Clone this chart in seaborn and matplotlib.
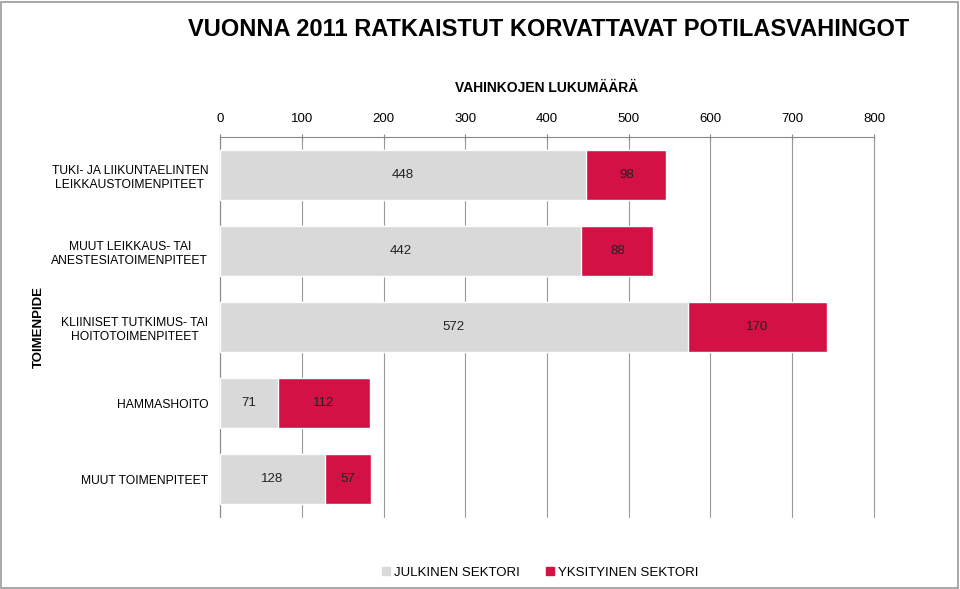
import numpy as np
import seaborn as sns
import pandas as pd
import matplotlib.pyplot as plt
from matplotlib.patches import Patch, Rectangle

categories = ['TUKI- JA LIIKUNTAELINTEN\nLEIKKAUSTOIMENPITEET',
              'MUUT LEIKKAUS- TAI\nANESTESIATOIMENPITEET',
              'KLIINISET TUTKIMUS- TAI\nHOITOTOIMENPITEET',
              'HAMMASHOITO',
              'MUUT TOIMENPITEET']
julkinen = [448, 442, 572, 71, 128]
yksityinen = [98, 88, 170, 112, 57]
xticks = [0, 100, 200, 300, 400, 500, 600, 700, 800]

gray = '#D9D9D9'
red = '#D41145'

sns.set_style('white')
plt.rcParams['font.family'] = ['Liberation Sans', 'DejaVu Sans']
plt.rcParams['text.color'] = 'black'
plt.rcParams['xtick.color'] = 'black'
plt.rcParams['ytick.color'] = 'black'

df = pd.DataFrame({'cat': categories, 'julkinen': julkinen, 'yksityinen': yksityinen})
df['total'] = df['julkinen'] + df['yksityinen']

fig = plt.figure(figsize=(9.6, 5.89), dpi=100)
ax = fig.add_axes([0.2292, 0.1222, 0.6812, 0.6452])

sns.barplot(data=df, x='total', y='cat', orient='h', color=red, width=0.67,
            saturation=1, ax=ax, zorder=3)
sns.barplot(data=df, x='julkinen', y='cat', orient='h', color=gray, width=0.67,
            saturation=1, ax=ax, zorder=3)

for i, row in df.iterrows():
    ax.text(row['julkinen'] / 2, i, str(row['julkinen']), ha='center', va='center',
            fontsize=9.5, color='#222222', zorder=5)
    ax.text(row['julkinen'] + row['yksityinen'] / 2, i, str(row['yksityinen']),
            ha='center', va='center', fontsize=9.5, color='#222222', zorder=5)

ax.set_xlim(0, 800)
ax.set_ylim(4.5, -0.5)
ax.set_xticks(xticks)
ax.xaxis.tick_top()
ax.tick_params(axis='x', which='both', labelsize=9.5, length=4, direction='inout',
               color='#888888', pad=7)
ax.grid(axis='x', color='#999999', linewidth=0.8, zorder=0)
for gl in ax.get_xgridlines():
    gl.set_clip_on(False)
ax.set_yticks(np.arange(-0.5, 5, 1), minor=False)
ax.set_yticklabels([''] * 6)
ax.set_yticks(range(5), minor=True)
ax.set_yticklabels(categories, minor=True, fontsize=8.7, ha='right',
                   multialignment='center', linespacing=1.3)
ax.tick_params(axis='y', which='major', length=4, color='#888888', direction='out')
ax.tick_params(axis='y', which='minor', length=0, pad=8.5)
for s in ['right', 'bottom']:
    ax.spines[s].set_visible(False)
ax.spines['top'].set_color('#888888')
ax.spines['left'].set_color('#888888')
ax.spines['top'].set_linewidth(0.8)
ax.spines['left'].set_linewidth(0.8)

ax.set_xlabel('')
ax.set_ylabel('')
fig.text(0.5698, 0.85, 'VAHINKOJEN LUKUMÄÄRÄ', ha='center', va='center',
         fontsize=10, fontweight='bold')
fig.text(0.04, 0.445, 'TOIMENPIDE', rotation=90, ha='center', va='center',
         fontsize=9.5, fontweight='bold')
fig.text(0.571, 0.95, 'VUONNA 2011 RATKAISTUT KORVATTAVAT POTILASVAHINGOT',
         ha='center', va='center', fontsize=17, fontweight='bold')

handles = [Patch(color=gray, label='JULKINEN SEKTORI'),
           Patch(color=red, label='YKSITYINEN SEKTORI')]
fig.legend(handles=handles, loc='center', bbox_to_anchor=(0.563, 0.028), ncol=2,
           frameon=False, fontsize=9.5, handlelength=0.6, handleheight=0.6,
           handletextpad=0.3, columnspacing=2.0)

fig.patches.append(Rectangle((0.001, 0.002), 0.997, 0.995, transform=fig.transFigure,
                             fill=False, edgecolor='#999999', linewidth=1.2))

fig.savefig('out.png', dpi=100)
